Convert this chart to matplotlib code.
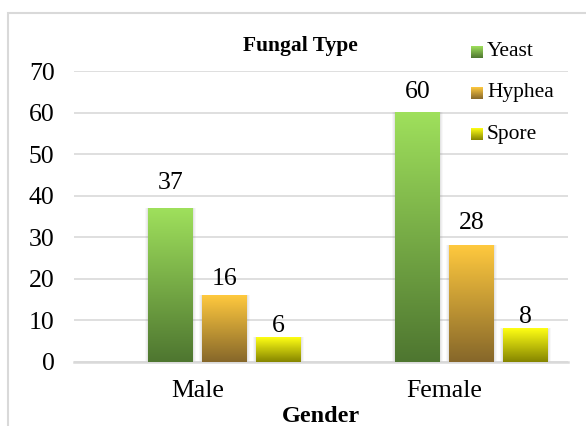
import matplotlib
matplotlib.use('Agg')
import matplotlib.pyplot as plt
import numpy as np
from matplotlib.colors import LinearSegmentedColormap
from matplotlib.patches import Rectangle

# ---- data ----
categories = ['Male', 'Female']
series_names = ['Yeast', 'Hyphea', 'Spore']
yeast = [37, 60]
hyphea = [16, 28]
spore = [6, 8]
y_ticks = [0, 10, 20, 30, 40, 50, 60, 70]
legend_title = 'Fungal Type'
x_title = 'Gender'

# ---- style ----
plt.rcParams['font.family'] = ['Liberation Serif', 'DejaVu Serif']
W, H = 586, 426
DPI = 100
grad_colors = [('#4E7630', '#9FE05C'),   # yeast (bottom, top)
               ('#86672A', '#FFC93E'),   # hyphea
               ('#858500', '#FFFF14')]   # spore
label_gap_px = [[19, 15], [10, 17], [5, 6]]
grid_col = '#D9D9D9'
FS = 18.5

fig = plt.figure(figsize=(W / DPI, H / DPI), dpi=DPI)
ax = fig.add_axes([74 / W, (H - 362) / H, 494 / W, 291 / H])

x = np.arange(len(categories))
slot = 54 / 247.0
width = 45 / 247.0
values = [yeast, hyphea, spore]
grad = np.linspace(0, 1, 256).reshape(-1, 1)

for i, (name, vals) in enumerate(zip(series_names, values)):
    off = (i - 0.5) * slot
    bars = ax.bar(x + off, vals, width, color='none', edgecolor='none', zorder=3, label=name)
    cmap = LinearSegmentedColormap.from_list(name, list(grad_colors[i]))
    for j, b in enumerate(bars):
        x0, y0 = b.get_x(), b.get_y()
        w, h = b.get_width(), b.get_height()
        # soft shadow
        for k, a in zip([0.012, 0.008, 0.004], [0.05, 0.07, 0.09]):
            ax.add_patch(Rectangle((x0 - k, y0), w + 2 * k, h + k * 8, facecolor='#808080',
                                   edgecolor='none', alpha=a, zorder=2))
        ax.imshow(grad, cmap=cmap, origin='lower', extent=[x0, x0 + w, y0, y0 + h],
                  aspect='auto', zorder=3, interpolation='bilinear')
        ax.annotate(str(vals[j]), (x0 + w / 2, h), xytext=(0, label_gap_px[i][j] * 72 / DPI),
                    textcoords='offset points', ha='center', va='baseline', fontsize=FS,
                    color='#000000')

ax.set_xlim(-0.5, len(categories) - 0.5)
ax.set_ylim(0, 70)
ax.set_yticks(y_ticks)
ax.set_yticklabels([str(t) for t in y_ticks], fontsize=FS)
ax.set_xticks(x)
ax.set_xticklabels(categories, fontsize=FS)
ax.tick_params(axis='both', length=0)
ax.tick_params(axis='y', pad=14)
ax.tick_params(axis='x', pad=13)
ax.grid(axis='y', color=grid_col, linewidth=1.2, zorder=0)
ax.set_axisbelow(True)
for s in ['top', 'right', 'left']:
    ax.spines[s].set_visible(False)
ax.spines['bottom'].set_color(grid_col)
ax.spines['bottom'].set_linewidth(1.8)
ax.set_facecolor('none')
ax.set_xlabel(x_title, fontsize=17.5, fontweight='bold', labelpad=3)

# legend (manual)
fig.text(300 / W, 1 - 46 / H, legend_title, ha='center', va='center', fontsize=15.5,
         fontweight='bold')
leg_y = [52, 93, 134]
for i, name in enumerate(series_names):
    cmap = LinearSegmentedColormap.from_list(name + 'l', list(grad_colors[i]))
    lax = fig.add_axes([471 / W, 1 - (leg_y[i] + 6) / H, 12 / W, 12 / H])
    lax.imshow(grad, cmap=cmap, origin='lower', aspect='auto', extent=[0, 1, 0, 1])
    lax.axis('off')
    fig.text(487 / W, 1 - leg_y[i] / H, name, ha='left', va='center', fontsize=15.5)

# outer border
fig.patches.append(Rectangle((8 / W, -0.5), 2, (H - 13) / H + 0.5, transform=fig.transFigure,
                             fill=False, edgecolor=grid_col, linewidth=1.5))

fig.savefig('out.png', dpi=DPI)
